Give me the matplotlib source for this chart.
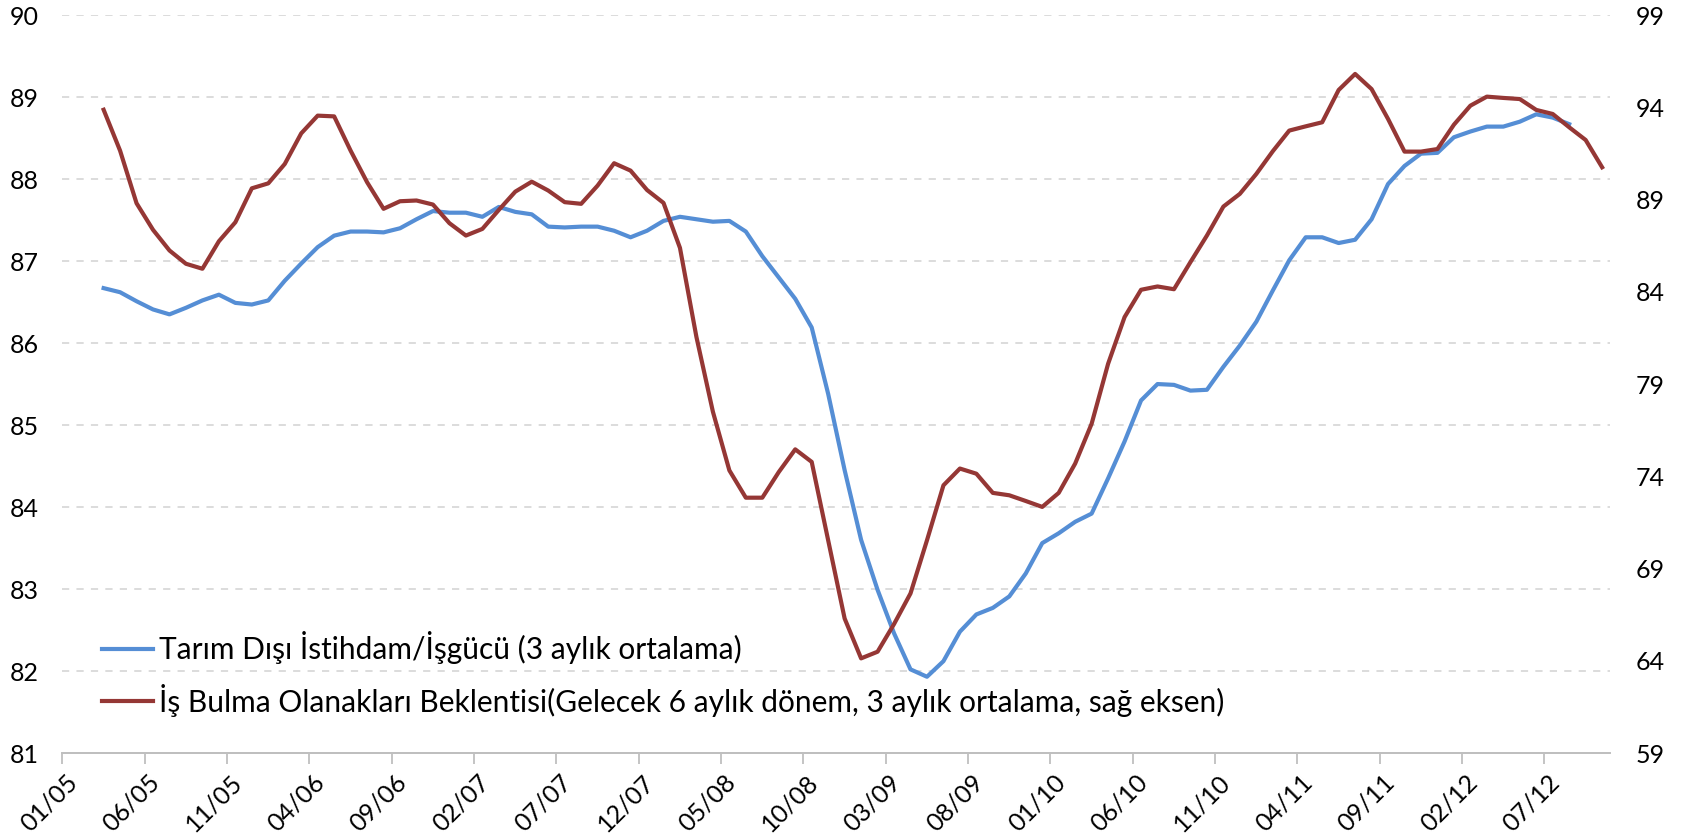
import numpy as np
import matplotlib
matplotlib.use('Agg')
import matplotlib.pyplot as plt
import matplotlib.transforms as mtransforms

# ---- data (monthly, 3-month averages) ----
# month index 0 = 01/05 ; both series start at 03/05
tick_pos = [0, 5, 10, 15, 20, 25, 30, 35, 40, 45, 50, 55, 60, 65, 70, 75, 80, 85, 90]
tick_labels = ['01/05', '06/05', '11/05', '04/06', '09/06', '02/07', '07/07', '12/07',
               '05/08', '10/08', '03/09', '08/09', '01/10', '06/10', '11/10', '04/11',
               '09/11', '02/12', '07/12']
n_months = 94  # 01/05 .. 10/12

blue_start = 2
blue = [86.67, 86.62, 86.51, 86.41, 86.35, 86.43, 86.52, 86.59, 86.49, 86.47,
        86.52, 86.76, 86.97, 87.17, 87.31, 87.36, 87.36, 87.35, 87.40, 87.51,
        87.61, 87.59, 87.59, 87.54, 87.66, 87.60, 87.57, 87.42, 87.41, 87.42,
        87.42, 87.37, 87.29, 87.37, 87.49, 87.54, 87.51, 87.48, 87.49, 87.36,
        87.06, 86.80, 86.54, 86.19, 85.38, 84.45, 83.60, 82.99, 82.46, 82.02,
        81.93, 82.12, 82.48, 82.69, 82.77, 82.91, 83.19, 83.56, 83.68, 83.82,
        83.92, 84.35, 84.80, 85.30, 85.50, 85.49, 85.42, 85.43, 85.71, 85.97,
        86.26, 86.64, 87.01, 87.29, 87.29, 87.22, 87.26, 87.51, 87.94, 88.16,
        88.31, 88.32, 88.51, 88.58, 88.64, 88.64, 88.70, 88.79, 88.75, 88.67]

red_start = 2
red = [93.87, 91.65, 88.80, 87.36, 86.24, 85.52, 85.25, 86.74, 87.77, 89.61,
       89.88, 90.93, 92.59, 93.55, 93.51, 91.65, 89.94, 88.50, 88.91, 88.95,
       88.73, 87.72, 87.05, 87.41, 88.44, 89.43, 89.97, 89.49, 88.86, 88.77,
       89.76, 90.97, 90.57, 89.52, 88.82, 86.38, 81.55, 77.50, 74.32, 72.84,
       72.84, 74.23, 75.46, 74.78, 70.53, 66.29, 64.13, 64.49, 65.99, 67.65,
       70.53, 73.51, 74.42, 74.14, 73.10, 72.97, 72.66, 72.34, 73.10, 74.69,
       76.85, 80.10, 82.63, 84.11, 84.29, 84.14, 85.61, 87.05, 88.62, 89.31,
       90.39, 91.62, 92.74, 92.97, 93.19, 94.94, 95.81, 94.99, 93.37, 91.60,
       91.60, 91.74, 93.06, 94.09, 94.58, 94.51, 94.45, 93.86, 93.64, 92.92,
       92.23, 90.75]

blue_label = 'Tarım Dışı İstihdam/İşgücü (3 aylık ortalama)'
red_label = 'İş Bulma Olanakları Beklentisi(Gelecek 6 aylık dönem, 3 aylık ortalama, sağ eksen)'

# points sit between tick marks
x_blue = blue_start + np.arange(len(blue)) + 0.5
x_red = red_start + np.arange(len(red)) + 0.5

plt.rcParams['font.family'] = ['Lato', 'DejaVu Sans']

fig = plt.figure(figsize=(16.88, 8.39), dpi=100)
ax = fig.add_axes([0.037, 0.1025, 0.917, 0.8795])
ax2 = ax.twinx()

l1, = ax.plot(x_blue, blue, color='#558ed5', lw=3.0, solid_joinstyle='round')
l2, = ax2.plot(x_red, red, color='#953735', lw=3.0, solid_joinstyle='round')

ax.set_xlim(0, n_months)
ax.set_ylim(81, 90)
ax2.set_ylim(59, 99)
ax.set_yticks(range(81, 91))
ax2.set_yticks(range(59, 100, 5))

ax.yaxis.grid(True, linestyle=(0, (4, 4)), color='#d9d9d9', lw=1.3)
ax.set_axisbelow(True)

for a in (ax, ax2):
    for s in ('top', 'left', 'right'):
        a.spines[s].set_visible(False)
    a.spines['bottom'].set_color('#bfbfbf')
    a.spines['bottom'].set_linewidth(1.3)

ax.tick_params(axis='y', length=0, labelsize=18, pad=17)
ax2.tick_params(axis='y', length=0, labelsize=18, pad=18)
ax.set_xticks(tick_pos)
ax.set_xticklabels(tick_labels, rotation=45, ha='right', va='center', rotation_mode='anchor')
ax.tick_params(axis='x', length=8, color='#bfbfbf', width=1.3, labelsize=18, pad=10)
offset = mtransforms.ScaledTranslation(11 / 100, 0, fig.dpi_scale_trans)
for lab in ax.get_xticklabels():
    lab.set_transform(lab.get_transform() + offset)

ax2.legend([l1, l2], [blue_label, red_label], loc='center left',
           bbox_to_anchor=(0.0255, 0.107), frameon=False, fontsize=21.5,
           handlelength=1.7, handletextpad=0.2, labelspacing=0.65,
           borderpad=0, borderaxespad=0)

fig.savefig('out.png', dpi=100)
